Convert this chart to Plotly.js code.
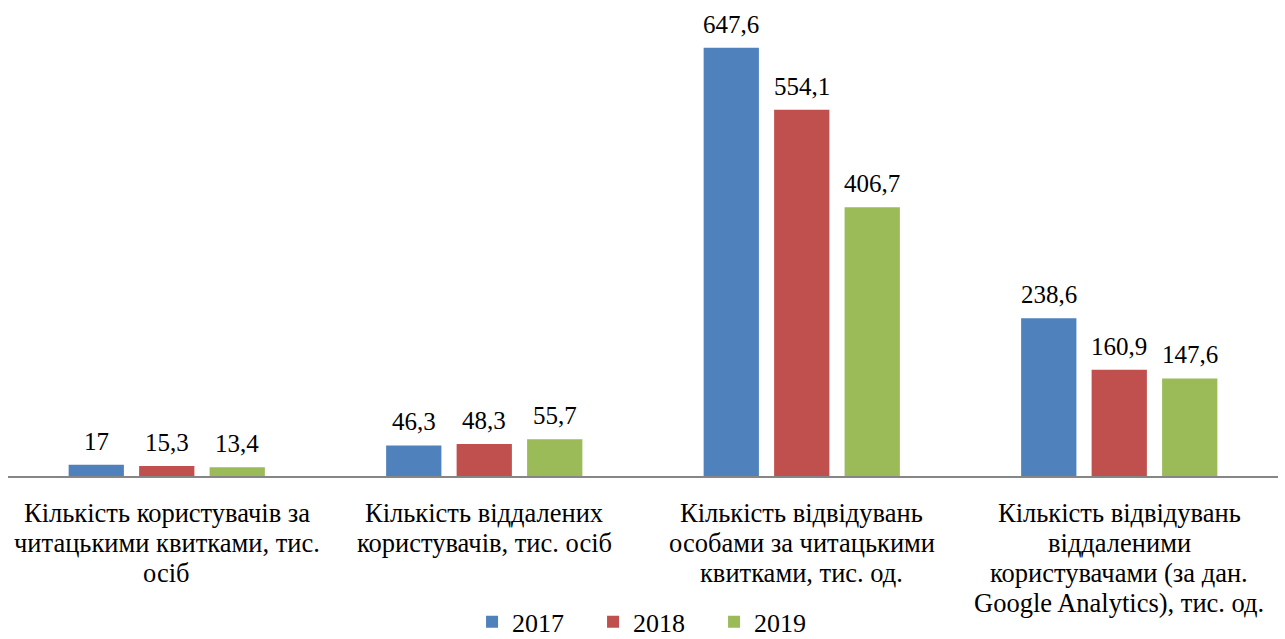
<!DOCTYPE html>
<html>
<head>
<meta charset="utf-8">
<script src="https://cdn.plot.ly/plotly-3.0.1.min.js"></script>
<style>html,body{margin:0;padding:0;background:#fff;}#chart{width:1285px;height:639px;}</style>
</head>
<body>
<div id="chart"></div>
<script>
const categories = [
  "Кількість користувачів за<br>читацькими квитками, тис.<br>осіб",
  "Кількість віддалених<br>користувачів, тис. осіб",
  "Кількість відвідувань<br>особами за читацькими<br>квитками, тис. од.",
  "Кількість відвідувань<br>віддаленими<br>користувачами (за дан.<br>Google Analytics), тис. од."
];
const seriesNames = ["2017", "2018", "2019"];
const values2017 = [17, 46.3, 647.6, 238.6];
const values2018 = [15.3, 48.3, 554.1, 160.9];
const values2019 = [13.4, 55.7, 406.7, 147.6];
const colors = ["#4F81BD", "#C0504D", "#9BBB59"];

const SERIF = "Liberation Serif";
const allValues = [values2017, values2018, values2019];
const fmt = v => String(v).replace('.', ',');

const traces = allValues.map((vals, i) => ({
  type: 'bar',
  name: seriesNames[i],
  x: categories,
  y: vals,
  marker: {color: colors[i], line: {width: 0}},
  hoverinfo: 'none'
}));

const annotations = [];
// value labels above bars
const shifts = [-70.5, 0, 70.5];
allValues.forEach((vals, i) => {
  vals.forEach((v, j) => {
    annotations.push({
      x: categories[j], y: v, xref: 'x', yref: 'y',
      text: fmt(v), showarrow: false,
      xshift: shifts[i], yshift: 8, yanchor: 'bottom',
      font: {family: SERIF, size: 25, color: '#000'}
    });
  });
});
// category labels below the axis, one annotation per line
categories.forEach(cat => {
  cat.split('<br>').forEach((line, k) => {
    annotations.push({
      x: cat, y: 0, xref: 'x', yref: 'y',
      text: line, showarrow: false,
      yanchor: 'middle', yshift: -(36.5 + 30.2 * k),
      font: {family: SERIF, size: 26.5, color: '#000'}
    });
  });
});

const layout = {
  width: 1285, height: 639,
  margin: {l: 8, r: 7, t: 0, b: 163},
  paper_bgcolor: '#fff', plot_bgcolor: '#fff',
  font: {family: SERIF, size: 26, color: '#000'},
  barmode: 'group',
  bargap: 0.334,
  bargroupgap: 0.216,
  showlegend: true,
  legend: {
    orientation: 'h', x: 0.3654, xanchor: 'left',
    yref: 'container', y: 0.027, yanchor: 'middle',
    font: {family: SERIF, size: 26, color: '#000'},
    entrywidth: 76, entrywidthmode: 'pixels'
  },
  xaxis: {
    type: 'category',
    showline: true, linecolor: '#868686', linewidth: 1.5,
    ticks: '', showgrid: false, zeroline: false,
    showticklabels: false,
    fixedrange: true
  },
  yaxis: {
    range: [0, 720], visible: false, showgrid: false, zeroline: false, fixedrange: true
  },
  annotations: annotations
};

Plotly.newPlot('chart', traces, layout, {displayModeBar: false, staticPlot: true});
</script>
</body>
</html>
